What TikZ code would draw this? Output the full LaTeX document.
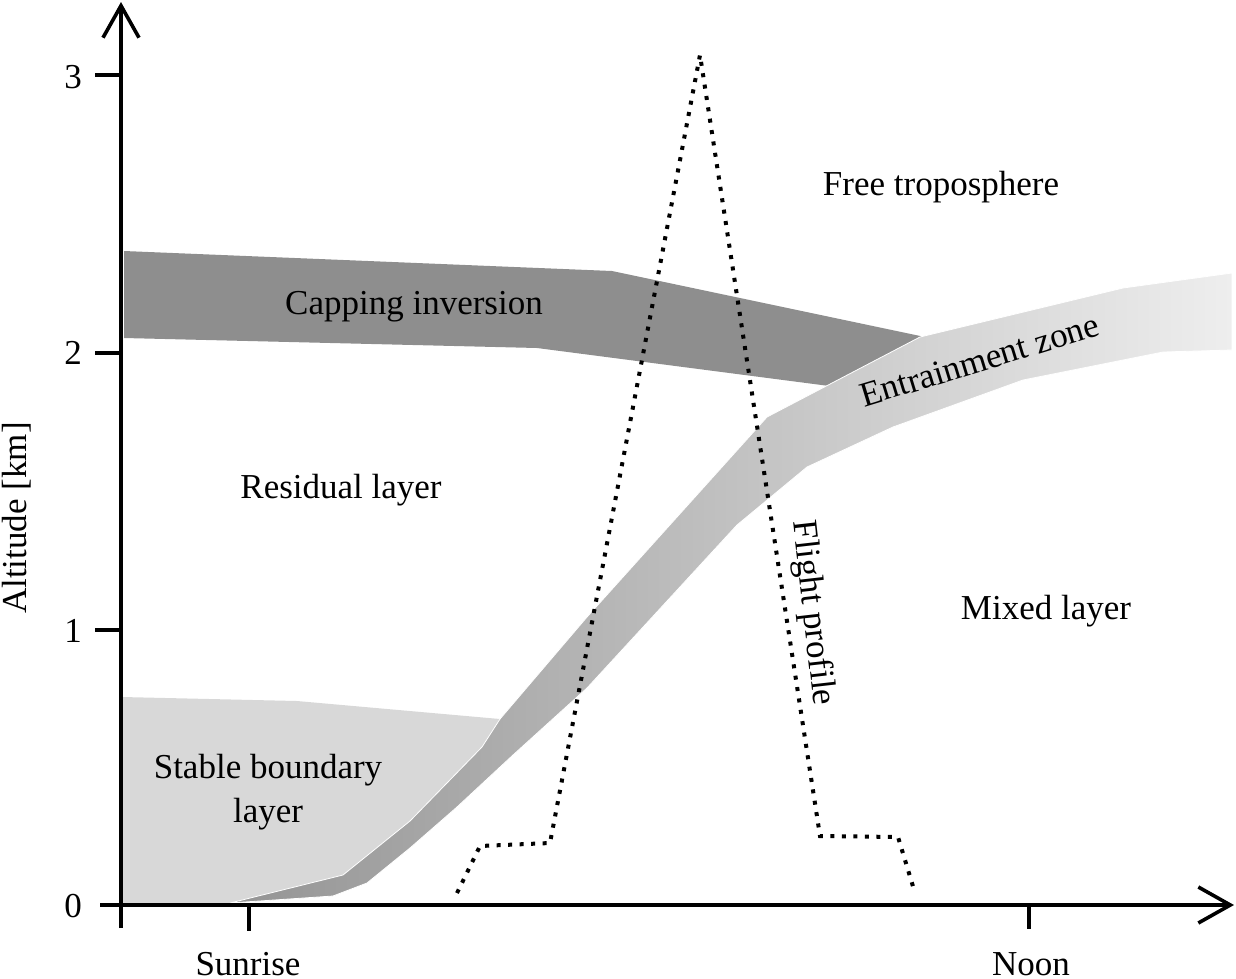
\documentclass[tikz,border=0pt]{standalone}
\usepackage{fontspec}
\setmainfont{Liberation Serif}
\usetikzlibrary{arrows.meta}
\definecolor{capgray}{RGB}{142,142,142}
\definecolor{sblgray}{RGB}{216,216,216}
\definecolor{bandL}{RGB}{148,148,148}
\definecolor{bandM}{RGB}{188,188,188}
\definecolor{bandR}{RGB}{238,238,238}
\begin{document}
\begin{tikzpicture}[x=1pt,y=-1pt,
  lbl/.style={font=\fontsize{35}{43}\selectfont, inner sep=0pt},
  axisline/.style={line width=3.6pt, -{Straight Barb[length=32pt,width=36pt,line width=3.6pt]}},
  tickline/.style={line width=3.6pt},
  flight/.style={line width=4pt, dash pattern=on 4pt off 7.5pt},
  capfill/.style={fill=capgray},
  sblfill/.style={fill=sblgray},
  bandfill/.style={left color=bandL, middle color=bandM, right color=bandR, draw=white, line width=0.8pt}]
\useasboundingbox (0,0) rectangle (1236,978);
% layers
\path[capfill] (124,251) -- (612,271) -- (925,337) -- (860,390) -- (537,348) -- (124,338) -- cycle;
\path[sblfill] (122,697) -- (297,701) -- (500,719) -- (482,747) -- (410,821) -- (343,875) -- (230,903) -- (122,903) -- cycle;
\path[bandfill] (1232,273) -- (1123,288) -- (920,337) -- (767,417) -- (587,617) -- (500,719) -- (482,747) -- (410,821) -- (343,875) -- (230,903)
  -- (333,896) -- (367,883) -- (410,848) -- (457,807) -- (513,755) -- (587,688) -- (737,525) -- (807,467) -- (893,427) -- (1023,380) -- (1163,352) -- (1232,350) -- cycle;
% flight profile
\coordinate (f1) at (457,893);
\coordinate (f2) at (480,846);
\coordinate (f3) at (550,843);
\coordinate (f4) at (700,55);
\coordinate (f5) at (820,836);
\coordinate (f6) at (898,837);
\coordinate (f7) at (915,893);
\draw[flight] (f1) -- (f2) -- (f3) -- (f4) -- (f5) -- (f6) -- (f7);
% axes
\coordinate (ybot) at (121,928);
\coordinate (ytop) at (121,2);
\coordinate (xleft) at (100,905);
\coordinate (xright) at (1234,905);
\draw[axisline] (ybot) -- (ytop);
\draw[axisline] (xleft) -- (xright);
% y ticks
\coordinate (t1a) at (95,630); \coordinate (t1b) at (121,630);
\coordinate (t2a) at (95,353); \coordinate (t2b) at (121,353);
\coordinate (t3a) at (95,75);  \coordinate (t3b) at (121,75);
\draw[tickline] (t1a) -- (t1b);
\draw[tickline] (t2a) -- (t2b);
\draw[tickline] (t3a) -- (t3b);
% x ticks
\coordinate (sa) at (249,905); \coordinate (sb) at (249,931);
\coordinate (na) at (1029,905); \coordinate (nb) at (1029,929);
\draw[tickline] (sa) -- (sb);
\draw[tickline] (na) -- (nb);
% tick labels
\node[lbl, anchor=base] (l0) at (73,917) {0};
\node[lbl, anchor=base] (l1) at (73,642) {1};
\node[lbl, anchor=base] (l2) at (73,364) {2};
\node[lbl, anchor=base] (l3) at (73,88) {3};
\node[lbl, anchor=base] (sunrise) at (248,975) {Sunrise};
\node[lbl, anchor=base] (noon) at (1031,975) {Noon};
\node[lbl, rotate=90] (alt) at (17,518) {Altitude [km]};
% region labels
\node[lbl, anchor=base] (free) at (941,195) {Free troposphere};
\node[lbl, anchor=base] (cap) at (414,314) {Capping inversion};
\node[lbl, anchor=base] (res) at (341,498) {Residual layer};
\node[lbl, anchor=base] (mixed) at (1046,619) {Mixed layer};
\node[lbl, anchor=base] (sbl1) at (268,778) {Stable boundary};
\node[lbl, anchor=base] (sbl2) at (268,822) {layer};
\node[lbl, anchor=base, rotate=17] (ent) at (983,371) {Entrainment zone};
\node[lbl, rotate=-83.5] (fp) at (812,613) {Flight profile};
\end{tikzpicture}
\end{document}
